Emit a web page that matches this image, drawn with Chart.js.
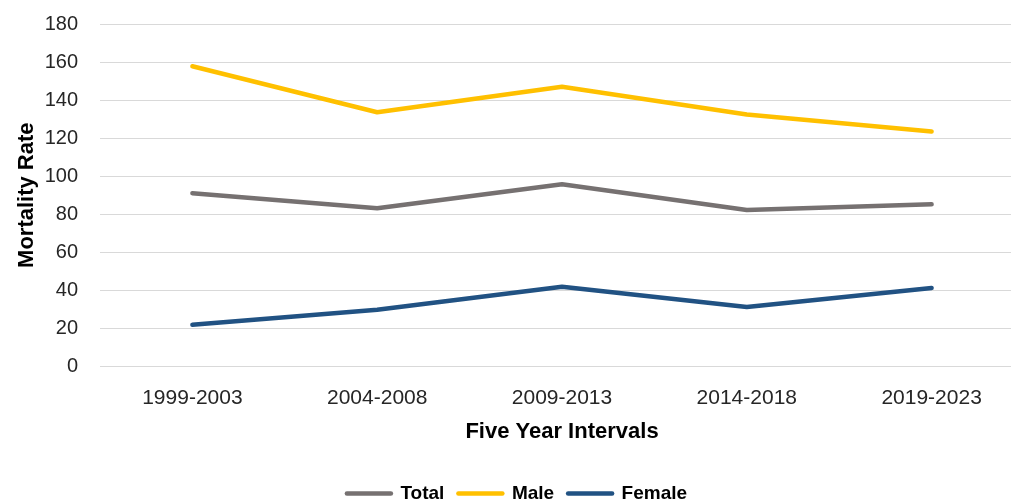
<!DOCTYPE html>
<html>
<head>
<meta charset="utf-8">
<script src="https://cdn.jsdelivr.net/npm/chart.js@4/dist/chart.umd.min.js"></script>
<style>
  html, body { margin: 0; padding: 0; background: #ffffff; overflow: hidden; width: 1011px; height: 500px; }
  #wrap { position: absolute; left: 0; top: 0; width: 1030px; height: 513px; }
</style>
</head>
<body>
<div id="wrap"><canvas id="chart" width="1030" height="513"></canvas></div>
<script>
// Five-year intervals on the x axis
const intervals = ['1999-2003', '2004-2008', '2009-2013', '2014-2018', '2019-2023'];

// Mortality rate per interval
const totalRate  = [91.0, 83.1, 95.8, 82.2, 85.2];
const maleRate   = [157.8, 133.6, 147.0, 132.4, 123.5];
const femaleRate = [21.9, 29.8, 41.9, 31.2, 41.2];

// Y axis range and step
const yMin = 0;
const yMax = 180;
const yStep = 20;

const seriesNames  = ['Total', 'Male', 'Female'];
const seriesColors = ['#767171', '#FFC000', '#215283'];
const seriesValues = [totalRate, maleRate, femaleRate];

const baseFont = "'Liberation Sans', Arial, sans-serif";

const datasets = seriesNames.map((name, i) => ({
  label: name,
  data: seriesValues[i],
  borderColor: seriesColors[i],
  backgroundColor: seriesColors[i],
  borderWidth: 4.5,
  borderCapStyle: 'round',
  borderJoinStyle: 'round',
  pointRadius: 0,
  pointHoverRadius: 0,
  tension: 0,
  fill: false
}));

new Chart(document.getElementById('chart'), {
  type: 'line',
  data: { labels: intervals, datasets },
  options: {
    responsive: false,
    animation: false,
    events: [],
    layout: { padding: { left: 10, right: 6, top: 24, bottom: 0 } },
    plugins: {
      tooltip: { enabled: false },
      legend: {
        position: 'bottom',
        labels: {
          usePointStyle: true,
          pointStyle: 'line',
          pointStyleWidth: 44,
          boxHeight: 4,
          padding: 14,
          color: '#000000',
          font: { family: baseFont, size: 19, weight: 'bold' },
          generateLabels: (chart) => chart.data.datasets.map((ds, i) => ({
            text: ds.label,
            fillStyle: ds.borderColor,
            strokeStyle: ds.borderColor,
            lineWidth: 4.5,
            lineCap: 'round',
            pointStyle: 'line',
            fontColor: '#000000',
            hidden: false,
            datasetIndex: i
          }))
        }
      }
    },
    scales: {
      x: {
        offset: true,
        afterFit: (scale) => { scale.height = 103.6; },
        grid: { display: false, drawTicks: false },
        border: { display: false },
        ticks: {
          padding: 19,
          color: '#262626',
          font: { family: baseFont, size: 21 },
          maxRotation: 0,
          autoSkip: false
        },
        title: {
          display: true,
          text: 'Five Year Intervals',
          color: '#000000',
          font: { family: baseFont, size: 22, weight: 'bold' },
          padding: { top: 0, bottom: 25 }
        }
      },
      y: {
        min: yMin,
        max: yMax,
        afterFit: (scale) => { scale.width = 90; scale.paddingTop = 0; scale.paddingBottom = 0; },
        grid: { color: '#D9D9D9', lineWidth: 1, drawTicks: false },
        border: { display: false },
        ticks: {
          stepSize: yStep,
          padding: 22,
          color: '#262626',
          font: { family: baseFont, size: 20 }
        },
        title: {
          display: true,
          text: 'Mortality Rate',
          color: '#000000',
          font: { family: baseFont, size: 22, weight: 'bold' },
          padding: { top: 4, bottom: 4 }
        }
      }
    }
  }
});
</script>
</body>
</html>
